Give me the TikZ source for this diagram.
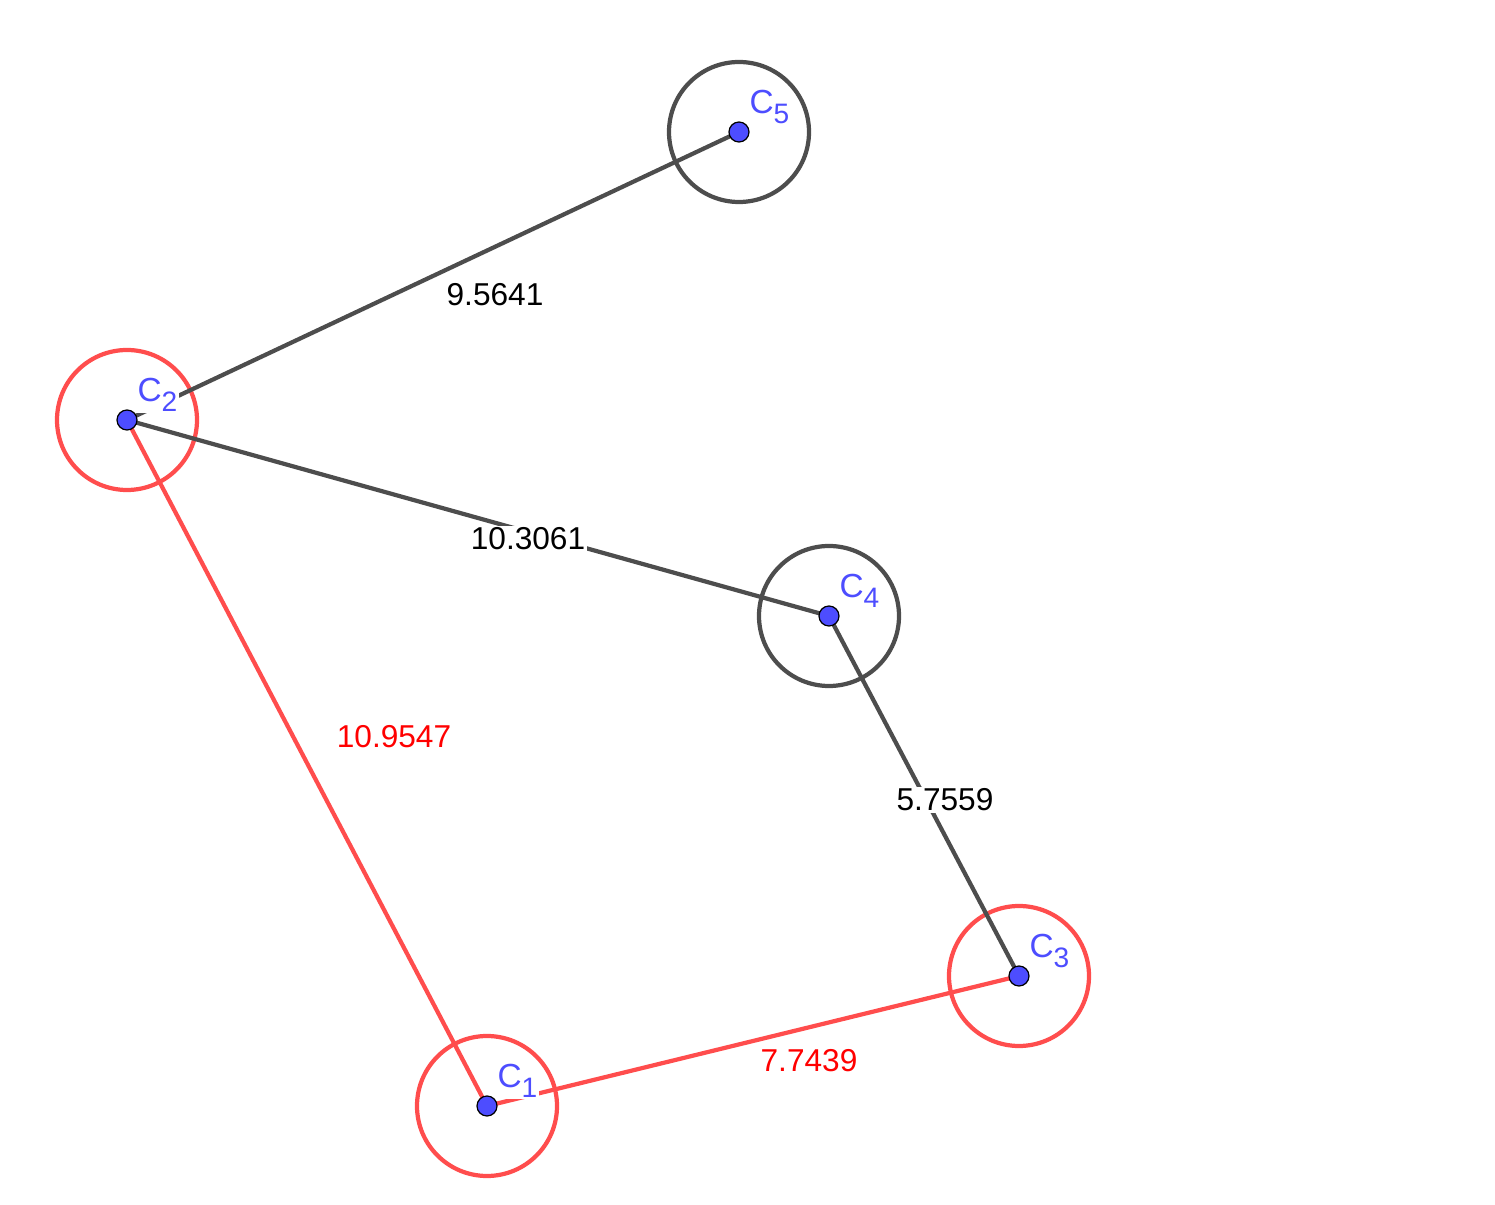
\documentclass[tikz,border=0pt]{standalone}
\usepackage{fontspec}
\setmainfont{Liberation Sans}
\usepackage{tikz}
\usetikzlibrary{positioning, calc}
\definecolor{ptblue}{HTML}{4D4DFF}
\definecolor{segred}{HTML}{FF4D4D}
\definecolor{seggray}{HTML}{4D4D4D}
\newcommand{\cname}[1]{C\raisebox{-0.55ex}{\fontsize{16}{18}\selectfont #1}}

\begin{document}
\begin{tikzpicture}[
        ring/.style={line width=2.4pt, seggray},
        redring/.style={line width=2.4pt, segred},
        seg/.style={line width=2.4pt, seggray},
        redseg/.style={line width=2.4pt, segred},
        pt/.style={circle, draw=black, fill=ptblue, line width=0.7pt, minimum size=0.4cm, inner sep=0pt},
        ptlabel/.style={anchor=base west, text=ptblue, fill=white, inner sep=1pt, font=\fontsize{19}{22}\selectfont},
        dist/.style={fill=white, inner sep=1pt, font=\fontsize{18}{21}\selectfont}
    ]
        \useasboundingbox (0,0) rectangle (29.9,24.1);

        \coordinate (c1) at (9.74,1.98);
        \coordinate (c2) at (2.54,15.70);
        \coordinate (c3) at (20.38,4.58);
        \coordinate (c4) at (16.58,11.78);
        \coordinate (c5) at (14.78,21.46);

        % circles round the centres
        \draw[redring] (c1) circle (1.4cm);
        \draw[redring] (c2) circle (1.4cm);
        \draw[redring] (c3) circle (1.4cm);
        \draw[ring] (c4) circle (1.4cm);
        \draw[ring] (c5) circle (1.4cm);

        % segments
        \draw[seg] (c2) -- (c5);
        \draw[seg] (c2) -- (c4);
        \draw[seg] (c4) -- (c3);
        \draw[redseg] (c2) -- (c1);
        \draw[redseg] (c1) -- (c3);

        \node[dist] (d25) at (9.90,18.20) {9.5641};
        \node[dist] (d24) at (10.56,13.32) {10.3061};
        \node[dist, text=red] (d21) at (7.88,9.36) {10.9547};
        \node[dist] (d43) at (18.90,8.10) {5.7559};
        \node[dist, text=red] (d13) at (16.18,2.88) {7.7439};

        \foreach \i in {1,...,5} {
            \node[ptlabel] (l\i) at ($(c\i)+(0.17,0.36)$) {\cname{\i}};
        }
        \foreach \i in {1,...,5} {
            \node[pt] (p\i) at (c\i) {};
        }
    \end{tikzpicture}
\end{document}
